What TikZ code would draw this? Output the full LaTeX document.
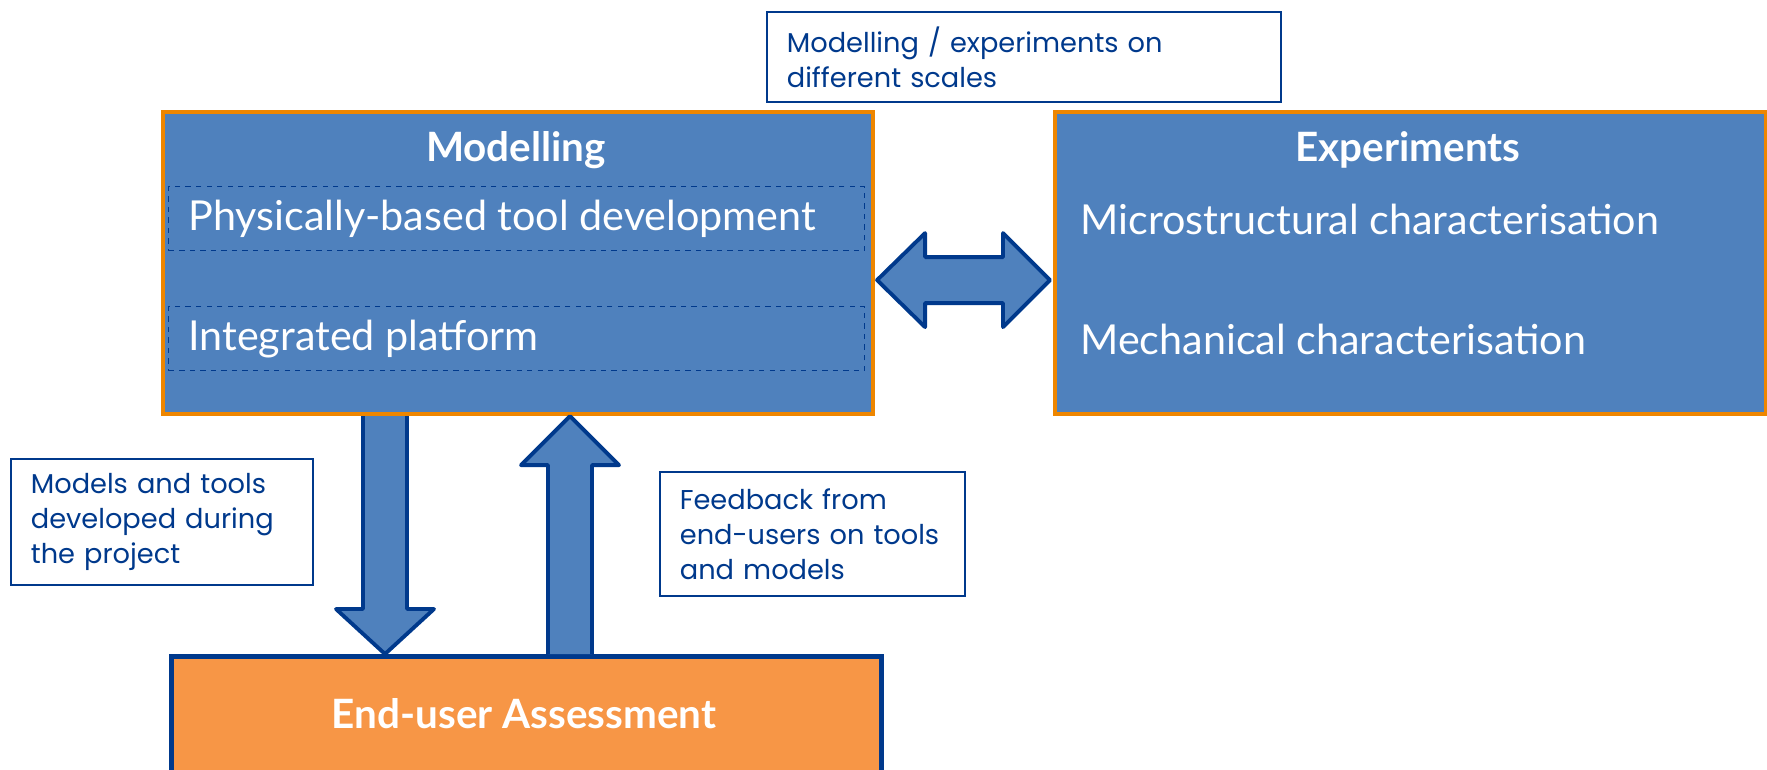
\documentclass[tikz,border=0pt]{standalone}
\usepackage{fontspec}
\setmainfont{Poppins}
\newfontfamily\boxfont{Lato}
\usetikzlibrary{positioning,calc}
\definecolor{boxblue}{RGB}{79,129,189}
\definecolor{rim}{RGB}{238,134,0}
\definecolor{navy}{RGB}{0,57,140}
\definecolor{assess}{RGB}{247,150,70}

\tikzset{
    mainbox/.style={draw=rim, fill=boxblue, line width=2.4pt, anchor=north west, minimum width=14.2cm, minimum height=6.04cm},
    subbox/.style={draw=navy, dashed, line width=0.8pt, anchor=north west, minimum width=13.92cm, minimum height=1.28cm},
    title/.style={text=white, font=\boxfont\fontsize{23}{26}\selectfont\bfseries},
    boxtext/.style={text=white, anchor=west, inner sep=0pt, font=\boxfont\fontsize{23.5}{26}\selectfont},
    note/.style={draw=navy, line width=1pt, anchor=north west, align=left, inner xsep=0.4cm, text=navy, font=\fontsize{15.5}{20}\selectfont},
    blockarrow/.style={draw=navy, fill=boxblue, line width=2.2pt, line join=round}
}

\begin{document}
\begin{tikzpicture}[x=0.02cm, y=-0.02cm]

    \useasboundingbox (0,0) rectangle (1767,769);

    % two main blocks
    \node[mainbox] (model) at (161,110) {};
    \node[mainbox, minimum width=14.22cm] (expt) at (1053,110) {};

    \node[title] (modeltitle) at (516,150) {Modelling};
    \node[title] (expttitle) at (1408,150) {Experiments};

    \node[subbox] (phys) at (168,186) {};
    \node[subbox] (platform) at (168,306) {};
    \node[boxtext, right=20 of phys.west] (physlabel) {Physically-based tool development};
    \node[boxtext, right=20 of platform.west] (platformlabel) {Integrated platform};

    \node[boxtext] (micro) at (1080,219) {Microstructural characterisation};
    \node[boxtext] (mech) at (1080,339) {Mechanical characterisation};

    % assessment block
    \node[draw=navy, fill=assess, line width=2.8pt, anchor=north west, minimum width=14.2cm, minimum height=3cm] (assessment) at (169,654) {};
    \node[title] (assesstitle) at (524,714) {End-user Assessment};

    % notes
    \node[note, minimum width=10.28cm, minimum height=1.8cm, text width=9.48cm] (scales) at (766,11) {Modelling / experiments on\\different scales};
    \node[note, minimum width=6.04cm, minimum height=2.52cm, text width=5.24cm] (models) at (10,458) {Models and tools\\developed during\\the project};
    \node[note, minimum width=6.1cm, minimum height=2.48cm, text width=5.3cm] (feedback) at (659,471) {Feedback from\\end-users on tools\\and models};

    % block arrows
    \coordinate (dl) at ($(model.east)+(2,17)$);
    \coordinate (dr) at ($(expt.west)+(-3,17)$);
    \draw[blockarrow] (dl) -- ++(48,-47) -- ++(0,24) -- ($(dr)+(-47,-23)$) -- ++(0,-24) -- (dr)
        -- ++(-47,47) -- ++(0,-24) -- ($(dl)+(48,23)$) -- ++(0,24) -- cycle;

    \coordinate (downtop) at (model.south -| 385,0);
    \coordinate (downtip) at (assessment.north -| 385,0);
    \draw[blockarrow] ($(downtop)+(-22,0)$) -- ($(downtip)+(-22,-45)$) -- ++(-27,0) -- (downtip)
        -- ++(49,-45) -- ++(-27,0) -- ($(downtop)+(22,0)$);

    \coordinate (uptip) at (model.south -| 570,0);
    \coordinate (upbase) at (assessment.north -| 570,0);
    \draw[blockarrow] ($(upbase)+(-22,0)$) -- ($(uptip)+(-22,49)$) -- ++(-27,0) -- (uptip)
        -- ++(49,49) -- ++(-27,0) -- ($(upbase)+(22,0)$);

\end{tikzpicture}
\end{document}
